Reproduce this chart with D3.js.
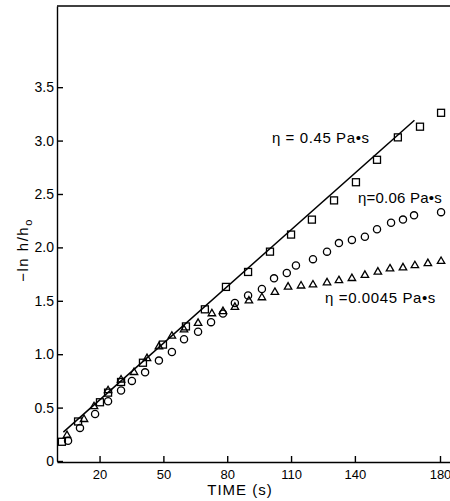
<!DOCTYPE html>
<html>
<head>
<meta charset="utf-8">
<script src="https://cdn.jsdelivr.net/npm/d3@7"></script>
<style>
  body { margin: 0; background: #fff; }
  svg { display: block; font-family: "Liberation Sans", Arial, sans-serif; }
  .axis path, .axis line { stroke: #000; stroke-width: 1.4; }
  .axis text { fill: #000; }
</style>
</head>
<body>
<div id="chart"></div>
<script>
// time (s), -ln h/h0
const squares = [
  [2.3, 0.18], [9.9, 0.37], [20.2, 0.55], [24.0, 0.64], [30.1, 0.74], [40.4, 0.92],
  [49.8, 1.09], [60.6, 1.26], [69.5, 1.42], [79.4, 1.63], [89.8, 1.77], [100.1, 1.96],
  [110.0, 2.12], [119.8, 2.26], [130.2, 2.44], [140.5, 2.61], [150.4, 2.82],
  [160.2, 3.03], [170.6, 3.13], [180.5, 3.26]
];
const circles = [
  [5.2, 0.19], [10.8, 0.31], [17.9, 0.44], [24.0, 0.56], [30.1, 0.66], [35.2, 0.75],
  [41.4, 0.83], [47.9, 0.94], [54.0, 1.02], [59.7, 1.14], [66.3, 1.21], [72.4, 1.30],
  [78.0, 1.38], [83.6, 1.48], [89.8, 1.55], [96.3, 1.61], [102.0, 1.71], [108.0, 1.76],
  [112.3, 1.83], [120.3, 1.89], [126.9, 1.96], [132.5, 2.04], [138.6, 2.07],
  [144.7, 2.10], [150.4, 2.17], [157.0, 2.23], [162.6, 2.26], [167.8, 2.30], [180.5, 2.33]
];
const triangles = [
  [4.7, 0.24], [12.7, 0.39], [17.4, 0.51], [24.0, 0.66], [30.1, 0.76], [36.2, 0.83],
  [42.3, 0.96], [47.9, 1.07], [54.0, 1.17], [59.7, 1.23], [66.3, 1.29], [72.8, 1.38],
  [78.0, 1.40], [83.6, 1.44], [90.2, 1.50], [96.3, 1.53], [102.4, 1.58], [108.6, 1.63],
  [114.7, 1.64], [120.3, 1.65], [126.9, 1.67], [132.5, 1.69], [138.6, 1.71],
  [144.7, 1.74], [150.8, 1.77], [156.5, 1.80], [162.6, 1.81], [168.2, 1.83],
  [174.3, 1.85], [180.5, 1.87]
];
// fitted straight line through the 0.45 Pa·s data (end points)
const fitLine = [[3, 0.27], [168, 3.19]];

const xTicks = [20, 50, 80, 110, 140, 180];
const yTicks = [0, 0.5, 1.0, 1.5, 2.0, 2.5, 3.0, 3.5];

const labels = [
  { text: "η = 0.45 Pa•s", t: 101, v: 2.98, ls: 0.6 },
  { text: "η=0.06 Pa•s", t: 141.5, v: 2.42, ls: 0.2 },
  { text: "η =0.0045 Pa•s", t: 126, v: 1.48, ls: 0.6 }
];

const width = 450, height = 501;
const margin = { top: 6, right: 0, bottom: 39, left: 57 };

const svg = d3.select("#chart").append("svg")
  .attr("width", width)
  .attr("height", height);

const x = d3.scaleLinear().domain([0, 184.7]).range([margin.left, width - margin.right]);
const y = d3.scaleLinear().domain([0, 4.26]).range([height - margin.bottom - 1, margin.top]);

// axes, ticks pointing inward
const xAxis = d3.axisBottom(x).tickValues(xTicks).tickSize(-6).tickSizeOuter(0).tickPadding(5);
const yAxis = d3.axisLeft(y).tickValues(yTicks).tickSize(-6).tickSizeOuter(0).tickPadding(3)
  .tickFormat(d => d === 0 ? "0" : d3.format(".1f")(d));

svg.append("g")
  .attr("class", "axis")
  .attr("transform", `translate(0,${y(0) + 1})`)
  .call(xAxis)
  .call(g => g.selectAll("text").attr("font-size", 13).attr("dy", "0.9em"));

svg.append("g")
  .attr("class", "axis")
  .attr("transform", `translate(${margin.left},0)`)
  .call(yAxis)
  .call(g => g.selectAll("text").attr("font-size", 14));

// top frame line
svg.append("line")
  .attr("x1", x(0)).attr("x2", x(184.7))
  .attr("y1", y(4.26)).attr("y2", y(4.26))
  .attr("stroke", "#000").attr("stroke-width", 1.4);

// axis titles
svg.append("text")
  .attr("x", 240).attr("y", 495)
  .attr("text-anchor", "middle")
  .attr("font-size", 15)
  .attr("letter-spacing", 1)
  .text("TIME (s)");

const yTitle = svg.append("text")
  .attr("transform", "translate(28,250) rotate(-90)")
  .attr("text-anchor", "middle")
  .attr("font-size", 15)
  .attr("letter-spacing", 1.5);
yTitle.append("tspan").text("−ln h/h");
yTitle.append("tspan").attr("font-size", 11).attr("dy", 4).text("o");

// fitted line
svg.append("path")
  .datum(fitLine)
  .attr("fill", "none")
  .attr("stroke", "#000")
  .attr("stroke-width", 1.5)
  .attr("d", d3.line().x(d => x(d[0])).y(d => y(d[1])));

const marks = svg.append("g")
  .attr("fill", "none")
  .attr("stroke", "#000")
  .attr("stroke-width", 1.3);

marks.selectAll(".sq").data(squares).join("rect")
  .attr("class", "sq")
  .attr("x", d => x(d[0]) - 3.5)
  .attr("y", d => y(d[1]) - 3.5)
  .attr("width", 7).attr("height", 7);

marks.selectAll(".ci").data(circles).join("circle")
  .attr("class", "ci")
  .attr("cx", d => x(d[0]))
  .attr("cy", d => y(d[1]))
  .attr("r", 3.6);

const tri = d3.symbol().type(d3.symbolTriangle).size(24);
marks.selectAll(".tr").data(triangles).join("path")
  .attr("class", "tr")
  .attr("transform", d => `translate(${x(d[0])},${y(d[1])})`)
  .attr("d", tri);

// series annotations
svg.selectAll(".lab").data(labels).join("text")
  .attr("class", "lab")
  .attr("x", d => x(d.t))
  .attr("y", d => y(d.v))
  .attr("font-size", 15)
  .attr("letter-spacing", d => d.ls)
  .text(d => d.text);
</script>
</body>
</html>
